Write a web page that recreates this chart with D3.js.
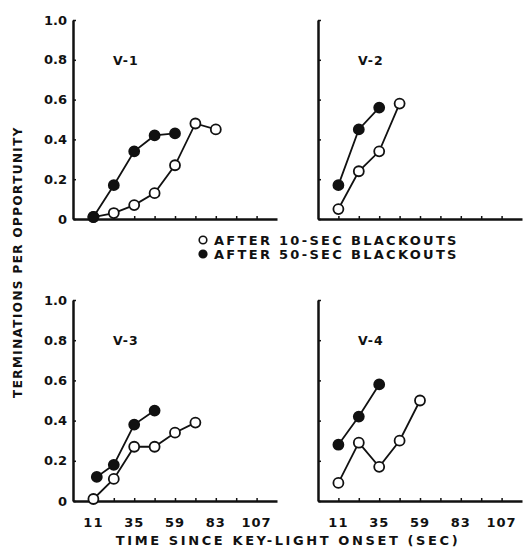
<!DOCTYPE html>
<html>
<head>
<meta charset="utf-8">
<script src="https://cdn.jsdelivr.net/npm/d3@7"></script>
<style>
  body { margin: 0; background: #fff; }
  text { font-family: "DejaVu Sans", Arial, sans-serif; font-weight: bold; fill: #111; }
</style>
</head>
<body>
<div id="chart"></div>
<script>
// Panel names
const panels = ["V-1", "V-2", "V-3", "V-4"];

// Times (sec since key-light onset) and values for each panel
const openTimes = [
  [11, 23, 35, 47, 59, 71, 83],
  [11, 23, 35, 47],
  [11, 23, 35, 47, 59, 71],
  [11, 23, 35, 47, 59]
];
const openValues = [
  [0.01, 0.03, 0.07, 0.13, 0.27, 0.48, 0.45],
  [0.05, 0.24, 0.34, 0.58],
  [0.01, 0.11, 0.27, 0.27, 0.34, 0.39],
  [0.09, 0.29, 0.17, 0.30, 0.50]
];
const filledTimes = [
  [11, 23, 35, 47, 59],
  [11, 23, 35],
  [13, 23, 35, 47],
  [11, 23, 35]
];
const filledValues = [
  [0.01, 0.17, 0.34, 0.42, 0.43],
  [0.17, 0.45, 0.56],
  [0.12, 0.18, 0.38, 0.45],
  [0.28, 0.42, 0.58]
];

// Axis ticks
const xTicks = [11, 23, 35, 47, 59, 71, 83, 95, 107];
const xTickLabels = [11, 35, 59, 83, 107];
const yTicks = [0, 0.2, 0.4, 0.6, 0.8, 1.0];

const legendLabels = ["AFTER 10-SEC BLACKOUTS", "AFTER 50-SEC BLACKOUTS"];

const width = 523, height = 549;

const svg = d3.select("#chart")
  .append("svg")
  .attr("width", width)
  .attr("height", height);

// panel positions: left/right columns, top/bottom rows
const cols = [[73, 277], [318, 522]];
const rows = [[219, 20], [501, 300]];

panels.forEach((name, i) => {
  const col = cols[i % 2];
  const row = rows[Math.floor(i / 2)];
  const isLeft = i % 2 === 0;
  const isBottom = i >= 2;

  const x = d3.scaleLinear().domain([-1, 119]).range(col);
  const y = d3.scaleLinear().domain([0, 1]).range(row);

  const g = svg.append("g");

  // x axis with inward ticks
  const xAxis = g.append("g")
    .attr("transform", `translate(0,${y(0)})`)
    .call(d3.axisBottom(x).tickValues(xTicks).tickSizeInner(-3).tickSizeOuter(0).tickFormat(""));
  xAxis.select(".domain").attr("stroke-width", 2.5).attr("stroke", "#111");
  xAxis.selectAll(".tick line").attr("stroke-width", 1.5).attr("stroke", "#111");

  // y axis with inward ticks
  const yAxis = g.append("g")
    .attr("transform", `translate(${x(-1)},0)`)
    .call(d3.axisLeft(y).tickValues(yTicks).tickSizeInner(-3).tickSizeOuter(0).tickFormat(""));
  yAxis.select(".domain").attr("stroke-width", 2.5).attr("stroke", "#111");
  yAxis.selectAll(".tick line").attr("stroke-width", 1.5).attr("stroke", "#111");

  if (isLeft) {
    g.selectAll(".ylab")
      .data(yTicks)
      .enter()
      .append("text")
      .attr("x", x(-1) - 6)
      .attr("y", (d) => y(d))
      .attr("dy", "0.36em")
      .attr("text-anchor", "end")
      .attr("font-size", "13px")
      .text((d) => (d === 0 ? "0" : d.toFixed(1)));
  }

  if (isBottom) {
    g.selectAll(".xlab")
      .data(xTickLabels)
      .enter()
      .append("text")
      .attr("x", (d) => x(d))
      .attr("y", y(0) + 26)
      .attr("text-anchor", "middle")
      .attr("font-size", "13px")
      .attr("letter-spacing", "1px")
      .text((d) => d);
  }

  // panel label
  g.append("text")
    .attr("x", x(-1) + 40)
    .attr("y", y(0.8) + 5)
    .attr("font-size", "12.5px")
    .attr("letter-spacing", "1px")
    .text(name);

  const line = d3.line().x((d) => x(d[0])).y((d) => y(d[1]));

  const openPts = openTimes[i].map((t, j) => [t, openValues[i][j]]);
  const filledPts = filledTimes[i].map((t, j) => [t, filledValues[i][j]]);

  [[openPts, "#fff"], [filledPts, "#111"]].forEach(([pts, fill]) => {
    g.append("path")
      .datum(pts)
      .attr("d", line)
      .attr("fill", "none")
      .attr("stroke", "#111")
      .attr("stroke-width", 1.8);
    g.selectAll(null)
      .data(pts)
      .enter()
      .append("circle")
      .attr("cx", (d) => x(d[0]))
      .attr("cy", (d) => y(d[1]))
      .attr("r", 5)
      .attr("fill", fill)
      .attr("stroke", "#111")
      .attr("stroke-width", 1.8);
  });
});

// legend
const legend = svg.append("g");
legendLabels.forEach((label, i) => {
  const ly = 240 + i * 14;
  legend.append("circle")
    .attr("cx", 203)
    .attr("cy", ly)
    .attr("r", 3.8)
    .attr("fill", i === 0 ? "#fff" : "#111")
    .attr("stroke", "#111")
    .attr("stroke-width", 1.6);
  legend.append("text")
    .attr("x", 214)
    .attr("y", ly)
    .attr("dy", "0.36em")
    .attr("font-size", "13px")
    .attr("letter-spacing", "2.3px")
    .text(label);
});

// axis titles
svg.append("text")
  .attr("transform", `translate(22,262) rotate(-90)`)
  .attr("text-anchor", "middle")
  .attr("font-size", "12px")
  .attr("letter-spacing", "1.4px")
  .text("TERMINATIONS PER OPPORTUNITY");

svg.append("text")
  .attr("x", 288)
  .attr("y", 545)
  .attr("text-anchor", "middle")
  .attr("font-size", "13px")
  .attr("letter-spacing", "2.6px")
  .text("TIME SINCE KEY-LIGHT ONSET (SEC)");
</script>
</body>
</html>
